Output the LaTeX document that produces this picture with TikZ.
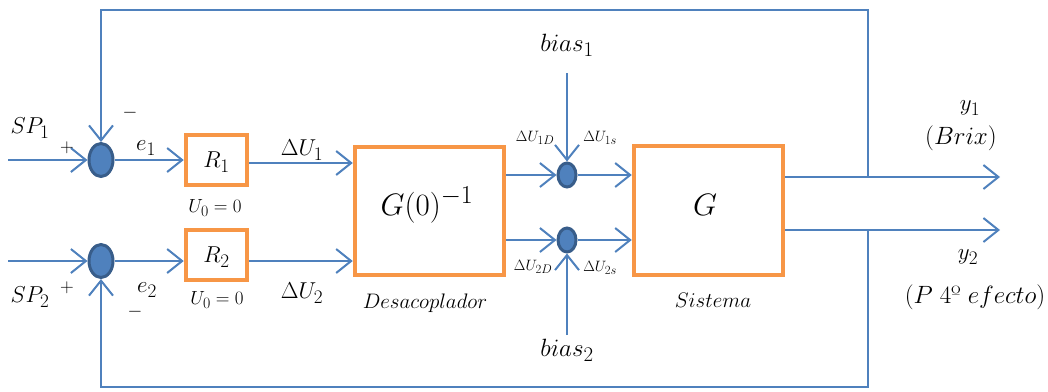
\documentclass[tikz,border=0pt]{standalone}
\usetikzlibrary{arrows.meta,shapes.geometric}
\definecolor{lblue}{HTML}{4F81BD}
\definecolor{dblue}{HTML}{385D8A}
\definecolor{orng}{HTML}{F79646}
\begin{document}
\begin{tikzpicture}[x=1pt,y=-1pt,
 conn/.style={draw=lblue,line width=2pt},
 arr/.style={conn,-{Straight Barb[length=15pt,width=24pt,line width=2pt]}},
 sumnode/.style={ellipse,draw=dblue,fill=lblue,line width=3pt,minimum width=24pt,minimum height=33pt,inner sep=0pt},
 sumsmall/.style={sumnode,minimum width=18pt,minimum height=24pt},
 blk/.style={draw=orng,line width=4.5pt,fill=white,inner sep=0pt},
 sz/.style={font=\fontsize{24.88}{30}\selectfont,inner sep=0pt,scale=#1/24.88},
 lbl/.style={sz=23},
 wlbl/.style={sz=25},
 slbl/.style={sz=19},
 nlbl/.style={sz=21},
 tlbl/.style={sz=15},
 big/.style={sz=31},
 ]
\useasboundingbox (0,0) rectangle (1048,391);
% blocks
\node[blk,minimum width=61pt,minimum height=50pt] (r1) at (216.5,160) {};
\node[lbl] at (216.5,162) {$R_1$};
\node[blk,minimum width=61pt,minimum height=50pt] (r2) at (216.5,255) {};
\node[lbl] at (216.5,257) {$R_2$};
\node[blk,minimum width=149pt,minimum height=128pt] (g0) at (429.5,211) {};
\node[big] at (427,205) {$G(0)^{-1}$};
\node[blk,minimum width=149pt,minimum height=129pt] (g) at (708.5,210.5) {};
\node[big] at (705,205) {$G$};
% sums
\node[sumnode] (s1) at (101,160) {};
\node[sumnode] (s2) at (101,261) {};
\node[sumsmall] (s3) at (567,175) {};
\node[sumsmall] (s4) at (567,240) {};
% coordinates
\coordinate (sp1) at (8,160);
\coordinate (sp2) at (8,261);
\coordinate (b1) at (567,73);
\coordinate (b2) at (567,335);
\coordinate (y1e) at (1000,177);
\coordinate (y2e) at (1000,230);
\coordinate (y1j) at (868,177);
\coordinate (y2j) at (868,230);
\coordinate (tr) at (868,10);
\coordinate (br) at (868,387);
% connectors
\draw[arr] (sp1) -- (s1.west);
\draw[arr] (sp2) -- (s2.west);
\draw[arr] (s1.east) -- (r1.west |- s1.east);
\draw[arr] (s2.east) -- (r2.west |- s2.east);
\draw[arr] (r1.east |- 0,163) -- (g0.west |- 0,163);
\draw[arr] (r2.east |- s2.east) -- (g0.west |- s2.east);
\draw[arr] (g0.east |- s3.west) -- (s3.west);
\draw[arr] (g0.east |- s4.west) -- (s4.west);
\draw[arr] (s3.east) -- (g.west |- s3.east);
\draw[arr] (s4.east) -- (g.west |- s4.east);
\draw[arr] (b1) -- (s3.north);
\draw[arr] (b2) -- (s4.south);
\draw[arr] (g.east |- y1e) -- (y1e);
\draw[arr] (g.east |- y2e) -- (y2e);
\draw[arr] (y1j) -- (tr) -| (s1.north);
\draw[arr] (y2j) -- (br) -| (s2.south);
% labels
\node[lbl] at (30,128) {$SP_1$};
\node[lbl] at (30,297) {$SP_2$};
\node[slbl] at (67,148) {$+$};
\node[slbl] at (67,288) {$+$};
\node[slbl] at (130,113) {$-$};
\node[slbl] at (135,312) {$-$};
\node[lbl] at (146,148) {$e_1$};
\node[lbl] at (147,290) {$e_2$};
\node[slbl] at (215,208) {$U_0=0$};
\node[slbl] at (217,300) {$U_0=0$};
\node[lbl] at (302,150) {$\Delta U_1$};
\node[lbl] at (302,293) {$\Delta U_2$};
\node[nlbl] at (425,303) {$Desacoplador$};
\node[wlbl] at (567,45) {$bias_1$};
\node[wlbl] at (567,350) {$bias_2$};
\node[tlbl] at (535,138) {$\Delta U_{1D}$};
\node[tlbl] at (600,138) {$\Delta U_{1s}$};
\node[tlbl] at (533,267) {$\Delta U_{2D}$};
\node[tlbl] at (600,268) {$\Delta U_{2s}$};
\node[nlbl] at (713,300) {$Sistema$};
\node[lbl] at (970,108) {$y_1$};
\node[wlbl] at (961,138) {$(Brix)$};
\node[lbl] at (968,257) {$y_2$};
\node[wlbl] at (975,297) {$(P\;4$º$\;efecto)$};
\end{tikzpicture}
\end{document}
